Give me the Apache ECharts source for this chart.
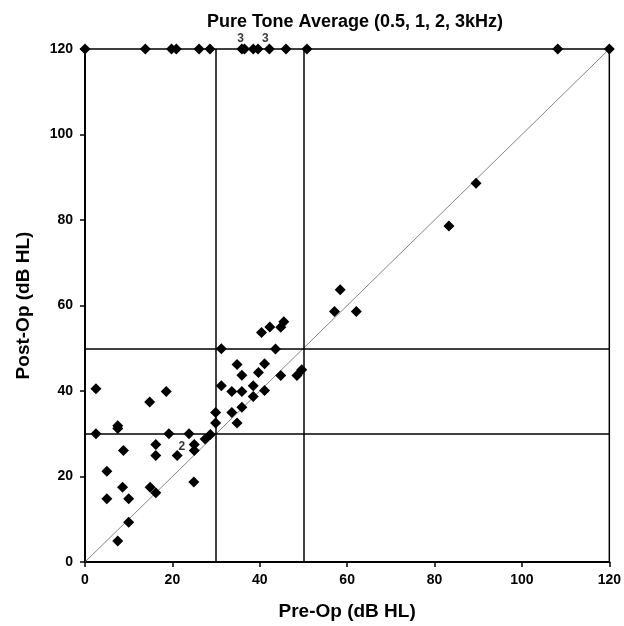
<!DOCTYPE html>
<html>
<head>
<meta charset="utf-8">
<script src="https://cdn.jsdelivr.net/npm/echarts@6/dist/echarts.min.js"></script>
<style>html,body{margin:0;padding:0;background:#fff}#c{width:624px;height:626px}</style>
</head>
<body>
<div id="c"></div>
<script>
// Pre-Op (x) and Post-Op (y) pure tone averages, dB HL
const preOp = [
  0, 13.8, 19.8, 20.9, 26.1, 28.6, 35.9, 36.5, 38.5, 39.6, 42.2, 46.0, 50.8, 108.2, 120,
  2.5, 2.5, 7.5, 7.5, 14.8, 18.6, 19.2, 23.8, 25.0, 25.0, 27.5, 28.7, 29.9, 29.9,
  31.2, 31.2, 33.6, 34.8, 35.9, 35.9, 33.6, 34.8, 35.9, 38.5, 38.5, 39.7,
  40.4, 42.3, 44.8, 45.5, 43.6, 57.1, 41.1, 44.8, 48.5, 49.6, 41.1,
  16.2, 16.2, 21.1, 8.8, 5.0, 5.0, 8.6, 10.0, 14.9, 16.2, 24.9, 10.0, 7.5,
  89.5, 83.3, 58.4, 62.1
];
const postOp = [
  120, 120, 120, 120, 120, 120, 120, 120, 120, 120, 120, 120, 120, 120, 120,
  40.5, 30, 31.9, 31.2, 37.4, 39.9, 30, 30, 27.5, 26.1, 28.8, 29.8, 32.5, 35,
  49.9, 41.2, 39.9, 46.2, 43.7, 39.9, 35, 32.5, 36.2, 41.2, 38.7, 44.3,
  53.7, 55, 54.9, 56.2, 49.8, 58.6, 46.4, 43.6, 43.6, 45, 40.1,
  27.5, 24.9, 24.9, 26.1, 21.2, 14.8, 17.5, 14.8, 17.5, 16.2, 18.7, 9.3, 4.9,
  88.6, 78.6, 63.7, 58.6
];
// counts for overlapping points: [pre, post, count]
const overlapCounts = [[36.5, 120, '3'], [42.2, 120, '3'], [25.0, 27.5, '2']];
const xTicks = [0, 20, 40, 60, 80, 100, 120];
const cutoffs = [30, 50];
const axisMin = 0, axisMax = 120, tickStep = 20;

const pts = preOp.map((x, i) => [x, postOp[i]]);
const F = '"Liberation Sans", Arial, Helvetica, sans-serif';

const chart = echarts.init(document.getElementById('c'), null, {renderer: 'canvas'});
chart.setOption({
  backgroundColor: '#fff',
  animation: false,
  title: {
    text: 'Pure Tone Average (0.5, 1, 2, 3kHz)',
    left: 350, top: 8, textAlign: 'center',
    textStyle: {fontFamily: F, fontWeight: 'bold', fontSize: 18, color: '#000'}
  },
  grid: {left: 85, right: 12, top: 49, bottom: 64, show: true, borderColor: '#000', borderWidth: 1.5, backgroundColor: 'transparent'},
  xAxis: {
    type: 'value', min: axisMin, max: axisMax, interval: tickStep,
    name: 'Pre-Op (dB HL)', nameLocation: 'middle', nameGap: 40,
    nameTextStyle: {fontFamily: F, fontWeight: 'bold', fontSize: 19, color: '#000'},
    axisLine: {show: true, lineStyle: {color: '#000', width: 2}},
    axisTick: {show: true, inside: false, length: 5, lineStyle: {color: '#000', width: 1.5}},
    axisLabel: {fontFamily: F, fontWeight: 'bold', fontSize: 14, color: '#000', margin: 11,
      formatter: v => xTicks.includes(v) ? String(v) : ''},
    splitLine: {show: false}
  },
  yAxis: {
    type: 'value', min: axisMin, max: axisMax, interval: tickStep,
    name: 'Post-Op (dB HL)', nameLocation: 'middle', nameGap: 52, nameRotate: 90,
    nameTextStyle: {fontFamily: F, fontWeight: 'bold', fontSize: 19, color: '#000'},
    axisLine: {show: true, lineStyle: {color: '#000', width: 2}},
    axisTick: {show: true, inside: false, length: 5, lineStyle: {color: '#000', width: 1.5}},
    axisLabel: {fontFamily: F, fontWeight: 'bold', fontSize: 14, color: '#000', margin: 12},
    splitLine: {show: false}
  },
  series: [
    {
      type: 'line', data: [[axisMin, axisMin], [axisMax, axisMax]],
      symbol: 'none', lineStyle: {color: '#666', width: 0.8}, silent: true, z: 1,
      markLine: {
        silent: true, symbol: 'none', label: {show: false},
        lineStyle: {color: '#000', width: 1.5, type: 'solid'},
        data: cutoffs.map(v => ({xAxis: v})).concat(cutoffs.map(v => ({yAxis: v})))
      }
    },
    {
      type: 'scatter', data: pts, symbol: 'diamond', symbolSize: 11,
      itemStyle: {color: '#000', opacity: 1}, z: 3
    },
    {
      type: 'scatter', symbolSize: 0, z: 4,
      data: overlapCounts.map(d => ({value: [d[0], d[1]], label: {show: true, formatter: d[2],
        position: d[1] === 120 ? 'top' : 'left', offset: d[1] === 120 ? [-4, 1] : [-4, 2]}})),
      label: {fontFamily: F, fontSize: 12, color: '#000', fontWeight: 'bold'}
    }
  ]
});
</script>
</body>
</html>
